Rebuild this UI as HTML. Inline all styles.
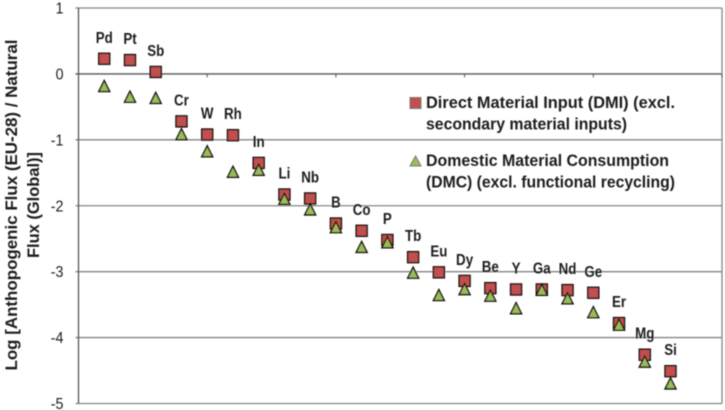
<!DOCTYPE html>
<html lang="en">
<head>
<meta charset="utf-8">
<title>Anthropogenic vs natural flux</title>
<style>
html,body{margin:0;padding:0;background:#fff;width:725px;height:410px;overflow:hidden}
svg{display:block;font-family:"Liberation Sans",sans-serif;color:#222}
text{fill:#1f1f1f}
</style>
</head>
<body>
<svg id="chart" width="725" height="410" viewBox="0 0 725 410">
  <defs><filter id="soft" x="-2%" y="-2%" width="104%" height="104%"><feGaussianBlur stdDeviation="0.4"/></filter></defs>
  <g id="root" filter="url(#soft)">
    <g id="grid"></g>
    <g id="axes"></g>
    <g id="ticks"></g>
    <g id="dmi"></g>
    <g id="dmc"></g>
    <g id="labels"></g>
    <g font-size="17" font-weight="700" text-anchor="middle">
      <text transform="translate(17,205) rotate(-90)" textLength="331" lengthAdjust="spacingAndGlyphs">Log [Anthopogenic Flux (EU-28) / Natural</text>
      <text transform="translate(39,205) rotate(-90)" textLength="106" lengthAdjust="spacingAndGlyphs">Flux (Global)]</text>
    </g>
    <g font-size="16.5" font-weight="700">
      <g>
        <rect x="410" y="97.5" width="11" height="11" fill="#c0504d" stroke="#777" stroke-width="1"/>
        <text x="426" y="108" textLength="249" lengthAdjust="spacingAndGlyphs">Direct Material Input (DMI) (excl.</text>
        <text x="426" y="129.5" textLength="201" lengthAdjust="spacingAndGlyphs">secondary material inputs)</text>
      </g>
      <g>
        <polygon points="415.5,156 421,166 410,166" fill="#9bbb59" stroke="#777" stroke-width="1"/>
        <text x="426" y="166" textLength="243" lengthAdjust="spacingAndGlyphs">Domestic Material Consumption</text>
        <text x="426" y="187.5" textLength="249" lengthAdjust="spacingAndGlyphs">(DMC) (excl. functional recycling)</text>
      </g>
    </g>
  </g>
</svg>
<script>
const elements = ['Pd','Pt','Sb','Cr','W','Rh','In','Li','Nb','B','Co','P','Tb','Eu','Dy','Be','Y','Ga','Nd','Ge','Er','Mg','Si'];
const dmiValues = [0.23,0.21,0.03,-0.72,-0.92,-0.93,-1.35,-1.83,-1.89,-2.27,-2.38,-2.52,-2.78,-3.01,-3.14,-3.25,-3.27,-3.27,-3.28,-3.32,-3.78,-4.26,-4.51];
const dmcValues = [-0.20,-0.36,-0.38,-0.93,-1.19,-1.50,-1.47,-1.91,-2.07,-2.34,-2.64,-2.57,-3.03,-3.37,-3.28,-3.38,-3.57,-3.29,-3.42,-3.63,-3.82,-4.38,-4.71];
const yTicks = [1,0,-1,-2,-3,-4,-5];
const xTicks = [0,5,10,15,20,25];

const NS = 'http://www.w3.org/2000/svg';
const plotLeft = 78.5, plotRight = 722, plotTop = 8, plotBottom = 403.5;
const xMax = 25, yMax = 1, yMin = -5;
const xScale = v => plotLeft + (v / xMax) * (plotRight - plotLeft);
const yScale = v => plotTop + ((yMax - v) / (yMax - yMin)) * (plotBottom - plotTop);
function make(tag, attrs, parent) {
  const el = document.createElementNS(NS, tag);
  for (const k in attrs) el.setAttribute(k, attrs[k]);
  parent.appendChild(el);
  return el;
}
function condense(el, ratio) {
  const len = el.getComputedTextLength();
  el.setAttribute('textLength', (len * ratio).toFixed(1));
  el.setAttribute('lengthAdjust', 'spacingAndGlyphs');
}
const grid = document.getElementById('grid');
const axes = document.getElementById('axes');
const ticks = document.getElementById('ticks');
const dmi = document.getElementById('dmi');
const dmc = document.getElementById('dmc');
const labels = document.getElementById('labels');

yTicks.forEach(t => {
  const y = yScale(t);
  const line = make('line', {x1: plotLeft - 3, x2: plotRight, y1: y, y2: y, stroke: t === 0 ? '#555' : '#858585', 'stroke-width': 1.3}, grid);
  
  
  const label = make('text', {x: 63.5, y: y + 5.5, 'font-size': 15.5, 'text-anchor': 'end'}, ticks);
  
  
  label.textContent = t;
  condense(label, 0.92);
});
const leftAxis = make('line', {x1: plotLeft, x2: plotLeft, y1: plotTop, y2: plotBottom, stroke: '#555', 'stroke-width': 1.3}, axes);


const rightEdge = make('line', {x1: plotRight, x2: plotRight, y1: plotTop, y2: plotBottom, stroke: '#858585', 'stroke-width': 1.3}, axes);


xTicks.forEach(t => {
  const x = xScale(t);
  const tick = make('line', {x1: x, x2: x, y1: yScale(0), y2: yScale(0) + 3.5, stroke: '#555', 'stroke-width': 1}, axes);
  
  
});
dmiValues.forEach((v, i) => {
  const x = xScale(i + 1), y = yScale(v);
  const r = make('rect', {x: x - 5.5, y: y - 5.5, width: 11, height: 11, fill: '#c0504d', stroke: '#111', 'stroke-width': 1.4}, dmi);
  
  
});
dmcValues.forEach((v, i) => {
  const x = xScale(i + 1), y = yScale(v);
  const p = make('polygon', {points: [[x, y - 6.5], [x + 5.5, y + 4.5], [x - 5.5, y + 4.5]].join(' '), fill: '#9bbb59', stroke: '#111', 'stroke-width': 1.4}, dmc);
  
  
});
elements.forEach((name, i) => {
  const t = make('text', {x: xScale(i + 1), y: yScale(dmiValues[i]) - 16, 'font-size': 15.5, 'font-weight': 700, 'text-anchor': 'middle'}, labels);
  
  
  t.textContent = name;
  condense(t, 0.86);
});
</script>
</body>
</html>
